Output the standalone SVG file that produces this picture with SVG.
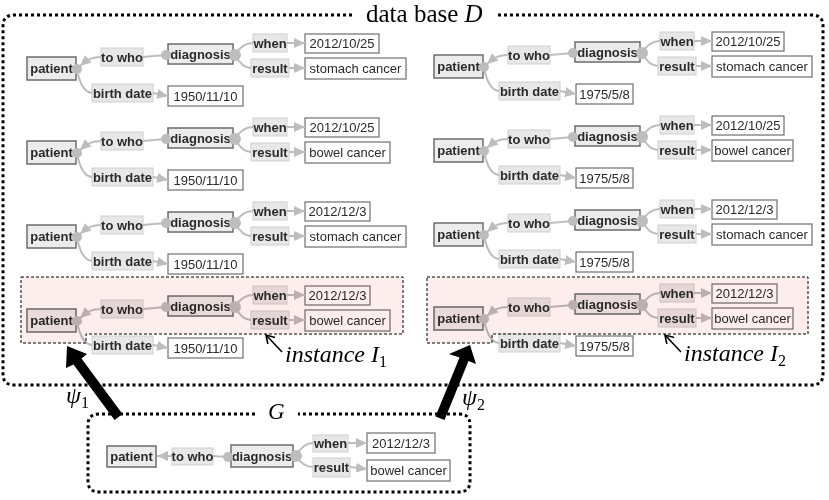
<svg xmlns="http://www.w3.org/2000/svg" width="829" height="500" viewBox="0 0 829 500">
<style>
text{font-family:"Liberation Sans",Arial,sans-serif;font-size:13px;fill:#2a2a2a;text-anchor:middle}
.key rect{fill:#ececec;stroke:#6c6c6c;stroke-width:1.5}
.key text,.lbl text{font-weight:bold}
.lbl rect{fill:#e7e7e7;stroke:#cfcfcf;stroke-width:1}
.val rect{fill:#fff;stroke:#7a7a7a;stroke-width:1.3}
.con path{fill:none;stroke:#bdbdbd;stroke-width:2}
.con path.a{marker-end:url(#ah)}
.con circle{fill:#bdbdbd}
.frame{fill:none;stroke:#000;stroke-width:3;stroke-dasharray:3 3}
.hl{fill:#fdeded;mix-blend-mode:multiply;stroke:#000;stroke-width:1;stroke-dasharray:3 2}
text.serif{font-family:"Liberation Serif","Times New Roman",serif;fill:#000;text-anchor:start;font-size:24px}
text.title{font-size:25px}
text.gt{font-size:23px}
.it{font-style:italic}
.sub{font-size:16px;font-style:normal}
</style>
<defs>
<marker id="ah" markerWidth="11" markerHeight="10" refX="11" refY="5" orient="auto" markerUnits="userSpaceOnUse"><path d="M0,0 L11,5 L0,10 z" fill="#bdbdbd"/></marker>
<marker id="sa" markerWidth="12" markerHeight="12" refX="9" refY="5" orient="auto" markerUnits="userSpaceOnUse"><path d="M1,0 L9,5 L1,10" fill="none" stroke="#000" stroke-width="1.6"/></marker>
</defs>

<!-- outer frames -->
<g id="database-frame">
<path class="frame" d="M352,15 H14 Q3,15 3,26 V374 Q3,385 14,385 H812 Q823,385 823,374 V26 Q823,15 812,15 H496"/>
<text class="serif title" x="366" y="22">data base <tspan class="it">D</tspan></text>
</g>
<g id="G-frame">
<path class="frame" d="M255,414 H99 Q88,414 88,425 V481 Q88,492 99,492 H459 Q470,492 470,481 V425 Q470,414 459,414 H298"/>
<text class="serif gt it" x="268" y="419">G</text>
</g>

<!-- records, nodes -->
<g id="nodes">
<g id="L1">
<g id="L1-patient" class="key"><rect x="27" y="57" width="49" height="23"/><text x="51.5" y="73">patient</text></g>
<g id="L1-towho" class="lbl"><rect x="101" y="48" width="42" height="18"/><text x="122" y="61.5">to who</text></g>
<g id="L1-diagnosis" class="key"><rect x="168" y="44" width="65" height="20"/><text x="200.5" y="58.5">diagnosis</text></g>
<g id="L1-when" class="lbl"><rect x="253" y="34" width="34" height="18"/><text x="270" y="47.5">when</text></g>
<g id="L1-date" class="val"><rect x="305" y="34" width="74" height="19"/><text x="342" y="48">2012/10/25</text></g>
<g id="L1-result" class="lbl"><rect x="251" y="59" width="38" height="18"/><text x="270" y="72.5">result</text></g>
<g id="L1-res" class="val"><rect x="305" y="58" width="101" height="21"/><text x="355.5" y="73">stomach cancer</text></g>
<g id="L1-birth" class="lbl"><rect x="92" y="84" width="61" height="18"/><text x="122.5" y="97.5">birth date</text></g>
<g id="L1-bd" class="val"><rect x="168" y="86" width="75" height="20"/><text x="205.5" y="101">1950/11/10</text></g>
</g>
<g id="L2" transform="translate(0,84)">
<g id="L2-patient" class="key"><rect x="27" y="57" width="49" height="23"/><text x="51.5" y="73">patient</text></g>
<g id="L2-towho" class="lbl"><rect x="101" y="48" width="42" height="18"/><text x="122" y="61.5">to who</text></g>
<g id="L2-diagnosis" class="key"><rect x="168" y="44" width="65" height="20"/><text x="200.5" y="58.5">diagnosis</text></g>
<g id="L2-when" class="lbl"><rect x="253" y="34" width="34" height="18"/><text x="270" y="47.5">when</text></g>
<g id="L2-date" class="val"><rect x="305" y="34" width="74" height="19"/><text x="342" y="48">2012/10/25</text></g>
<g id="L2-result" class="lbl"><rect x="251" y="59" width="38" height="18"/><text x="270" y="72.5">result</text></g>
<g id="L2-res" class="val"><rect x="305" y="58" width="85" height="21"/><text x="347.5" y="73">bowel cancer</text></g>
<g id="L2-birth" class="lbl"><rect x="92" y="84" width="61" height="18"/><text x="122.5" y="97.5">birth date</text></g>
<g id="L2-bd" class="val"><rect x="168" y="86" width="75" height="20"/><text x="205.5" y="101">1950/11/10</text></g>
</g>
<g id="L3" transform="translate(0,168)">
<g id="L3-patient" class="key"><rect x="27" y="57" width="49" height="23"/><text x="51.5" y="73">patient</text></g>
<g id="L3-towho" class="lbl"><rect x="101" y="48" width="42" height="18"/><text x="122" y="61.5">to who</text></g>
<g id="L3-diagnosis" class="key"><rect x="168" y="44" width="65" height="20"/><text x="200.5" y="58.5">diagnosis</text></g>
<g id="L3-when" class="lbl"><rect x="253" y="34" width="34" height="18"/><text x="270" y="47.5">when</text></g>
<g id="L3-date" class="val"><rect x="305" y="34" width="65" height="19"/><text x="337.5" y="48">2012/12/3</text></g>
<g id="L3-result" class="lbl"><rect x="251" y="59" width="38" height="18"/><text x="270" y="72.5">result</text></g>
<g id="L3-res" class="val"><rect x="305" y="58" width="101" height="21"/><text x="355.5" y="73">stomach cancer</text></g>
<g id="L3-birth" class="lbl"><rect x="92" y="84" width="61" height="18"/><text x="122.5" y="97.5">birth date</text></g>
<g id="L3-bd" class="val"><rect x="168" y="86" width="75" height="20"/><text x="205.5" y="101">1950/11/10</text></g>
</g>
<g id="L4" transform="translate(0,252)">
<g id="L4-patient" class="key"><rect x="27" y="57" width="49" height="23"/><text x="51.5" y="73">patient</text></g>
<g id="L4-towho" class="lbl"><rect x="101" y="48" width="42" height="18"/><text x="122" y="61.5">to who</text></g>
<g id="L4-diagnosis" class="key"><rect x="168" y="44" width="65" height="20"/><text x="200.5" y="58.5">diagnosis</text></g>
<g id="L4-when" class="lbl"><rect x="253" y="34" width="34" height="18"/><text x="270" y="47.5">when</text></g>
<g id="L4-date" class="val"><rect x="305" y="34" width="65" height="19"/><text x="337.5" y="48">2012/12/3</text></g>
<g id="L4-result" class="lbl"><rect x="251" y="59" width="38" height="18"/><text x="270" y="72.5">result</text></g>
<g id="L4-res" class="val"><rect x="305" y="58" width="85" height="21"/><text x="347.5" y="73">bowel cancer</text></g>
<g id="L4-birth" class="lbl"><rect x="92" y="84" width="61" height="18"/><text x="122.5" y="97.5">birth date</text></g>
<g id="L4-bd" class="val"><rect x="168" y="86" width="75" height="20"/><text x="205.5" y="101">1950/11/10</text></g>
</g>

<g id="R1" transform="translate(407,-2)">
<g id="R1-patient" class="key"><rect x="27" y="57" width="49" height="23"/><text x="51.5" y="73">patient</text></g>
<g id="R1-towho" class="lbl"><rect x="101" y="48" width="42" height="18"/><text x="122" y="61.5">to who</text></g>
<g id="R1-diagnosis" class="key"><rect x="168" y="44" width="65" height="20"/><text x="200.5" y="58.5">diagnosis</text></g>
<g id="R1-when" class="lbl"><rect x="253" y="34" width="34" height="18"/><text x="270" y="47.5">when</text></g>
<g id="R1-date" class="val"><rect x="305" y="34" width="72" height="19"/><text x="341" y="48">2012/10/25</text></g>
<g id="R1-result" class="lbl"><rect x="251" y="59" width="38" height="18"/><text x="270" y="72.5">result</text></g>
<g id="R1-res" class="val"><rect x="305" y="58" width="100" height="21"/><text x="355" y="73">stomach cancer</text></g>
<g id="R1-birth" class="lbl"><rect x="92" y="84" width="61" height="18"/><text x="122.5" y="97.5">birth date</text></g>
<g id="R1-bd" class="val"><rect x="169" y="86" width="57" height="20"/><text x="197.5" y="101">1975/5/8</text></g>
</g>
<g id="R2" transform="translate(407,82)">
<g id="R2-patient" class="key"><rect x="27" y="57" width="49" height="23"/><text x="51.5" y="73">patient</text></g>
<g id="R2-towho" class="lbl"><rect x="101" y="48" width="42" height="18"/><text x="122" y="61.5">to who</text></g>
<g id="R2-diagnosis" class="key"><rect x="168" y="44" width="65" height="20"/><text x="200.5" y="58.5">diagnosis</text></g>
<g id="R2-when" class="lbl"><rect x="253" y="34" width="34" height="18"/><text x="270" y="47.5">when</text></g>
<g id="R2-date" class="val"><rect x="305" y="34" width="72" height="19"/><text x="341" y="48">2012/10/25</text></g>
<g id="R2-result" class="lbl"><rect x="251" y="59" width="38" height="18"/><text x="270" y="72.5">result</text></g>
<g id="R2-res" class="val"><rect x="305" y="58" width="81" height="21"/><text x="345.5" y="73">bowel cancer</text></g>
<g id="R2-birth" class="lbl"><rect x="92" y="84" width="61" height="18"/><text x="122.5" y="97.5">birth date</text></g>
<g id="R2-bd" class="val"><rect x="169" y="86" width="57" height="20"/><text x="197.5" y="101">1975/5/8</text></g>
</g>
<g id="R3" transform="translate(407,166)">
<g id="R3-patient" class="key"><rect x="27" y="57" width="49" height="23"/><text x="51.5" y="73">patient</text></g>
<g id="R3-towho" class="lbl"><rect x="101" y="48" width="42" height="18"/><text x="122" y="61.5">to who</text></g>
<g id="R3-diagnosis" class="key"><rect x="168" y="44" width="65" height="20"/><text x="200.5" y="58.5">diagnosis</text></g>
<g id="R3-when" class="lbl"><rect x="253" y="34" width="34" height="18"/><text x="270" y="47.5">when</text></g>
<g id="R3-date" class="val"><rect x="305" y="34" width="65" height="19"/><text x="337.5" y="48">2012/12/3</text></g>
<g id="R3-result" class="lbl"><rect x="251" y="59" width="38" height="18"/><text x="270" y="72.5">result</text></g>
<g id="R3-res" class="val"><rect x="305" y="58" width="100" height="21"/><text x="355" y="73">stomach cancer</text></g>
<g id="R3-birth" class="lbl"><rect x="92" y="84" width="61" height="18"/><text x="122.5" y="97.5">birth date</text></g>
<g id="R3-bd" class="val"><rect x="169" y="86" width="57" height="20"/><text x="197.5" y="101">1975/5/8</text></g>
</g>
<g id="R4" transform="translate(407,250)">
<g id="R4-patient" class="key"><rect x="27" y="57" width="49" height="23"/><text x="51.5" y="73">patient</text></g>
<g id="R4-towho" class="lbl"><rect x="101" y="48" width="42" height="18"/><text x="122" y="61.5">to who</text></g>
<g id="R4-diagnosis" class="key"><rect x="168" y="44" width="65" height="20"/><text x="200.5" y="58.5">diagnosis</text></g>
<g id="R4-when" class="lbl"><rect x="253" y="34" width="34" height="18"/><text x="270" y="47.5">when</text></g>
<g id="R4-date" class="val"><rect x="305" y="34" width="65" height="19"/><text x="337.5" y="48">2012/12/3</text></g>
<g id="R4-result" class="lbl"><rect x="251" y="59" width="38" height="18"/><text x="270" y="72.5">result</text></g>
<g id="R4-res" class="val"><rect x="305" y="58" width="81" height="21"/><text x="345.5" y="73">bowel cancer</text></g>
<g id="R4-birth" class="lbl"><rect x="92" y="84" width="61" height="18"/><text x="122.5" y="97.5">birth date</text></g>
<g id="R4-bd" class="val"><rect x="169" y="86" width="57" height="20"/><text x="197.5" y="101">1975/5/8</text></g>
</g>

<g id="G">
<g id="G-patient" class="key"><rect x="107" y="446" width="49" height="21"/><text x="131.5" y="461">patient</text></g>
<g id="G-towho" class="lbl"><rect x="172" y="448" width="41" height="17"/><text x="192.5" y="461">to who</text></g>
<g id="G-diagnosis" class="key"><rect x="231" y="445" width="62" height="22"/><text x="262" y="461">diagnosis</text></g>
<g id="G-when" class="lbl"><rect x="313" y="435" width="35" height="17"/><text x="330.5" y="448">when</text></g>
<g id="G-date" class="val"><rect x="367" y="433" width="68" height="20"/><text x="401" y="448">2012/12/3</text></g>
<g id="G-result" class="lbl"><rect x="313" y="458" width="37" height="19"/><text x="331.5" y="472">result</text></g>
<g id="G-res" class="val"><rect x="367" y="460" width="83" height="21"/><text x="408.5" y="475">bowel cancer</text></g>
</g>
</g>

<!-- connectors -->
<g id="connectors" class="con">
<g transform="translate(0,0)"><path class="a" d="M101,57 C92,57 88,59 80,66"/><path d="M77,69 Q81,92 92,93"/><path d="M143,57 L166,55"/><path d="M235,55 Q242,43 253,43"/><path d="M235,55 Q242,68 251,68"/><path class="a" d="M287,43 L305,43"/><path class="a" d="M289,68 L305,68"/><path class="a" d="M153,93 L168,96"/><circle cx="77" cy="69" r="5"/><circle cx="166" cy="55" r="5"/><circle cx="235" cy="55" r="6"/></g>
<g transform="translate(0,84)"><path class="a" d="M101,57 C92,57 88,59 80,66"/><path d="M77,69 Q81,92 92,93"/><path d="M143,57 L166,55"/><path d="M235,55 Q242,43 253,43"/><path d="M235,55 Q242,68 251,68"/><path class="a" d="M287,43 L305,43"/><path class="a" d="M289,68 L305,68"/><path class="a" d="M153,93 L168,96"/><circle cx="77" cy="69" r="5"/><circle cx="166" cy="55" r="5"/><circle cx="235" cy="55" r="6"/></g>
<g transform="translate(0,168)"><path class="a" d="M101,57 C92,57 88,59 80,66"/><path d="M77,69 Q81,92 92,93"/><path d="M143,57 L166,55"/><path d="M235,55 Q242,43 253,43"/><path d="M235,55 Q242,68 251,68"/><path class="a" d="M287,43 L305,43"/><path class="a" d="M289,68 L305,68"/><path class="a" d="M153,93 L168,96"/><circle cx="77" cy="69" r="5"/><circle cx="166" cy="55" r="5"/><circle cx="235" cy="55" r="6"/></g>
<g transform="translate(0,252)"><path class="a" d="M101,57 C92,57 88,59 80,66"/><path d="M77,69 Q81,92 92,93"/><path d="M143,57 L166,55"/><path d="M235,55 Q242,43 253,43"/><path d="M235,55 Q242,68 251,68"/><path class="a" d="M287,43 L305,43"/><path class="a" d="M289,68 L305,68"/><path class="a" d="M153,93 L168,96"/><circle cx="77" cy="69" r="5"/><circle cx="166" cy="55" r="5"/><circle cx="235" cy="55" r="6"/></g>
<g transform="translate(407,-2)"><path class="a" d="M101,57 C92,57 88,59 80,66"/><path d="M77,69 Q81,92 92,93"/><path d="M143,57 L166,55"/><path d="M235,55 Q242,43 253,43"/><path d="M235,55 Q242,68 251,68"/><path class="a" d="M287,43 L305,43"/><path class="a" d="M289,68 L305,68"/><path class="a" d="M153,93 L169,96"/><circle cx="77" cy="69" r="5"/><circle cx="166" cy="55" r="5"/><circle cx="235" cy="55" r="6"/></g>
<g transform="translate(407,82)"><path class="a" d="M101,57 C92,57 88,59 80,66"/><path d="M77,69 Q81,92 92,93"/><path d="M143,57 L166,55"/><path d="M235,55 Q242,43 253,43"/><path d="M235,55 Q242,68 251,68"/><path class="a" d="M287,43 L305,43"/><path class="a" d="M289,68 L305,68"/><path class="a" d="M153,93 L169,96"/><circle cx="77" cy="69" r="5"/><circle cx="166" cy="55" r="5"/><circle cx="235" cy="55" r="6"/></g>
<g transform="translate(407,166)"><path class="a" d="M101,57 C92,57 88,59 80,66"/><path d="M77,69 Q81,92 92,93"/><path d="M143,57 L166,55"/><path d="M235,55 Q242,43 253,43"/><path d="M235,55 Q242,68 251,68"/><path class="a" d="M287,43 L305,43"/><path class="a" d="M289,68 L305,68"/><path class="a" d="M153,93 L169,96"/><circle cx="77" cy="69" r="5"/><circle cx="166" cy="55" r="5"/><circle cx="235" cy="55" r="6"/></g>
<g transform="translate(407,250)"><path class="a" d="M101,57 C92,57 88,59 80,66"/><path d="M77,69 Q81,92 92,93"/><path d="M143,57 L166,55"/><path d="M235,55 Q242,43 253,43"/><path d="M235,55 Q242,68 251,68"/><path class="a" d="M287,43 L305,43"/><path class="a" d="M289,68 L305,68"/><path class="a" d="M153,93 L169,96"/><circle cx="77" cy="69" r="5"/><circle cx="166" cy="55" r="5"/><circle cx="235" cy="55" r="6"/></g>
<g id="G-connectors"><path class="a" d="M172,456 L157,456"/><path d="M213,456 L228,457"/><path d="M296,456 Q303,443 313,443"/><path d="M296,456 Q303,467 313,467"/><path class="a" d="M348,443 L367,443"/><path class="a" d="M350,467 L367,469"/><circle cx="228" cy="457" r="5"/><circle cx="296" cy="456" r="6"/></g>
</g>

<!-- instance highlights -->
<g id="instance-I1">
<path class="hl" d="M21,277 H403 V334 H86 V343 H21 Z"/>
<path d="M282,352 L266,335" fill="none" stroke="#000" stroke-width="1.6" marker-end="url(#sa)"/>
<text class="serif it" x="285" y="362">instance I<tspan class="sub" dy="5">1</tspan></text>
</g>
<g id="instance-I2">
<path class="hl" d="M427,277 H808 V334 H492 V343 H427 Z"/>
<path d="M681,352 L665,335" fill="none" stroke="#000" stroke-width="1.6" marker-end="url(#sa)"/>
<text class="serif it" x="684" y="361">instance I<tspan class="sub" dy="5">2</tspan></text>
</g>

<!-- mappings -->
<g id="psi-arrows">
<g id="psi1"><polygon points="67,346 87,354 81.5,358.5 122.5,414 114.5,420 73.5,364.5 66,368" fill="#000"/><text class="serif it" x="66" y="403">ψ<tspan class="sub" dy="5">1</tspan></text></g>
<g id="psi2"><polygon points="470,345 476,364 468.5,361 444.5,420 435.5,416.5 459.5,357.5 449,354" fill="#000"/><text class="serif it" x="462" y="405">ψ<tspan class="sub" dy="5">2</tspan></text></g>
</g>
</svg>
